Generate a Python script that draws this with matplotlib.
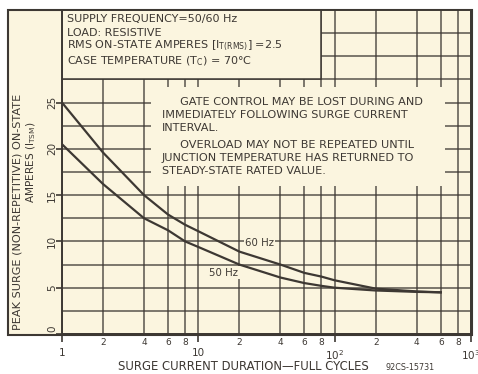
import matplotlib.pyplot as plt
from matplotlib.patches import Rectangle
from matplotlib.transforms import blended_transform_factory, offset_copy
import numpy as np

# surge duration in full cycles, peak surge amps
cycles = [1, 2, 4, 6, 8, 10, 20, 40, 60, 80, 100, 200, 400, 600]
amps_60hz = [25.0, 19.6, 15.0, 12.9, 11.8, 11.1, 8.9, 7.5, 6.6, 6.2, 5.8, 4.9, 4.6, 4.5]
amps_50hz = [20.5, 16.2, 12.5, 11.2, 10.0, 9.4, 7.5, 6.1, 5.5, 5.2, 5.0, 4.7, 4.55, 4.5]

x_major = [1, 10, 100, 1000]
x_major_labels = ['1', '10', r'10$^{2}$', r'10$^{3}$']
x_minor = [2, 4, 6, 8, 20, 40, 60, 80, 200, 400, 600, 800]
x_minor_labels = ['2', '4', '6', '8'] * 3
y_major = [0, 5, 10, 15, 20, 25]
y_minor = [2.5, 7.5, 12.5, 17.5, 22.5, 27.5, 30, 32.5]

conditions = ['SUPPLY FREQUENCY=50/60 Hz',
              'LOAD: RESISTIVE',
              r'RMS ON-STATE AMPERES [I$_{\mathregular{T(RMS)}}$] =2.5',
              r'CASE TEMPERATURE (T$_{\mathregular{C}}$) = 70°C']
notes = ['     GATE CONTROL MAY BE LOST DURING AND',
         'IMMEDIATELY FOLLOWING SURGE CURRENT',
         'INTERVAL.',
         '     OVERLOAD MAY NOT BE REPEATED UNTIL',
         'JUNCTION TEMPERATURE HAS RETURNED TO',
         'STEADY-STATE RATED VALUE.']

paper = '#fbf5df'
ink = '#3d3833'
W, H = 478, 374

fig = plt.figure(figsize=(W / 100, H / 100), dpi=100)
fig.patch.set_facecolor('white')
fig.patches.append(Rectangle((8 / W, 1 - 335 / H), 464 / W, 325 / H,
                             transform=fig.transFigure, facecolor=paper,
                             edgecolor=ink, lw=1.5, zorder=-1))

ax = fig.add_axes([62 / W, 1 - 334 / H, 409 / W, 324 / H])
ax.set_zorder(2)
ax.set_facecolor(paper)
ax.set_xscale('log')
ax.set_xlim(1, 1000)
ax.set_ylim(0, 35)

ax.set_xticks(x_major, x_major_labels)
ax.set_xticks(x_minor, x_minor_labels, minor=True)
ax.set_yticks(y_major, [])
ax.set_yticks(y_minor, minor=True)
ax.grid(which='both', color=ink, lw=1.1, alpha=0.85)
ax.set_axisbelow(True)

ax.tick_params(axis='x', which='major', length=6, width=1.2, color=ink,
               pad=4, labelsize=7.5, labelcolor=ink)
ax.tick_params(axis='x', which='minor', length=0, pad=3, labelsize=6.5,
               labelcolor=ink)
ax.tick_params(axis='y', which='major', length=4, width=1.2, color=ink)
ax.tick_params(axis='y', which='minor', length=0)
for sp in ax.spines.values():
    sp.set_color(ink)
    sp.set_linewidth(1.4)

# y tick labels, rotated like the axis title
ytrans = offset_copy(blended_transform_factory(ax.transAxes, ax.transData),
                     fig=fig, x=-10, y=0, units='dots')
for v in y_major:
    ax.text(0, v + (0.6 if v == 0 else 0), str(v), transform=ytrans,
            rotation=90, ha='center', va='center', fontsize=7.5, color=ink,
            clip_on=False)

# covers over the grid
ax.add_patch(Rectangle((1, 27.5), 79, 7.5, facecolor=paper, edgecolor=ink,
                       lw=1.1, zorder=2))
ax.add_patch(Rectangle((4.5, 16.0), 645.5, 10.7, facecolor=paper,
                       edgecolor='none', zorder=2))

ax.plot(cycles, amps_60hz, color=ink, lw=1.6, zorder=3)
ax.plot(cycles, amps_50hz, color=ink, lw=1.6, zorder=3)

lab_box = dict(facecolor=paper, edgecolor='none', pad=1)
ax.text(22.0, 9.8, '60 Hz', fontsize=7.3, color=ink, va='center',
        bbox=lab_box, zorder=4)
ax.text(12.0, 6.6, '50 Hz', fontsize=7.3, color=ink, va='center',
        bbox=lab_box, zorder=4)

for i, line in enumerate(conditions):
    ax.text(1.08, 34.0 - i * 1.45 - (0.2 if i == 3 else 0), line,
            fontsize=8, color=ink, va='center', zorder=4)
for i, line in enumerate(notes):
    ax.text(5.4, 25.1 - i * 1.42 - (0.4 if i >= 3 else 0), line,
            fontsize=8.1, color=ink, va='center', zorder=4)

fig.text(18 / W, 1 - 212 / H, 'PEAK SURGE (NON-REPETITIVE) ON-STATE',
         rotation=90, ha='center', va='center', fontsize=8.1, color=ink)
fig.text(31 / W, 1 - 162 / H, r'AMPERES (I$_{\mathregular{TSM}}$)',
         rotation=90, ha='center', va='center', fontsize=7.6, color=ink)
fig.text(243 / W, 1 - 367 / H, 'SURGE CURRENT DURATION\u2014FULL CYCLES',
         ha='center', va='center', fontsize=8.4, color=ink)
fig.text(386 / W, 1 - 367 / H, '92CS-15731', ha='left', va='center',
         fontsize=5.8, color=ink)

fig.savefig('out.png', dpi=100)
